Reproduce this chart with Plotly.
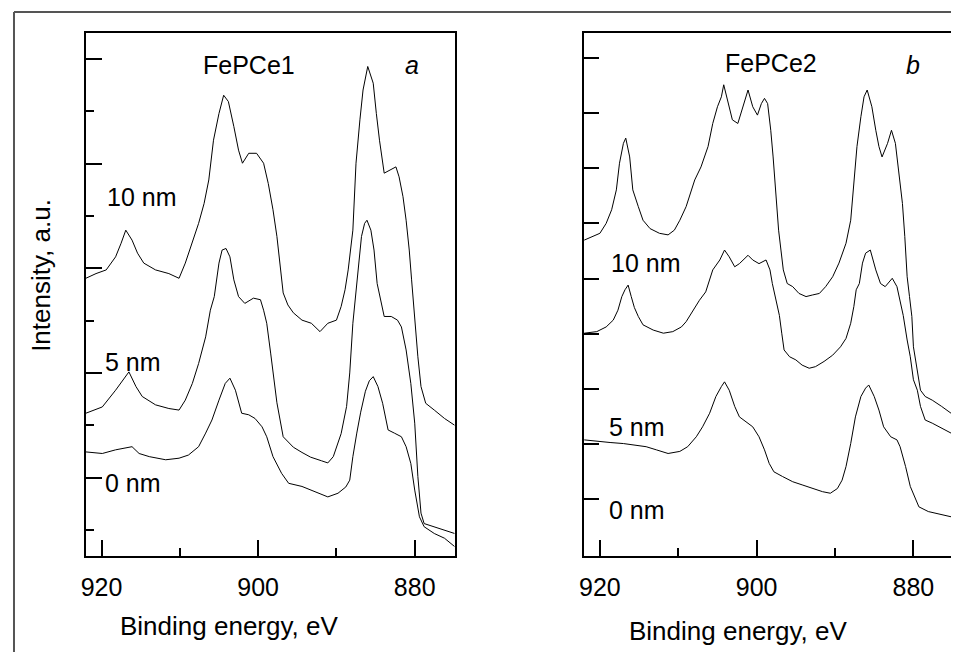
import plotly.graph_objects as go

# the page body adds an 8 px margin, so the figure is drawn 8 px smaller and offset
W, H = 959, 652
OFF = 8
FW, FH = W - OFF, H - OFF

# binding energy (eV) / intensity (a.u.)
# panel a: FePCe1
a10_x = [922.0, 920.7, 919.4, 918.2, 917.5, 916.9, 916.1, 915.4, 914.6, 913.1, 911.4, 910.1, 909.3, 908.4,
         907.6, 906.9, 906.3, 905.7, 905.0, 904.4, 903.8, 903.1, 902.5, 902.0, 901.2, 900.2, 899.3, 898.7,
         898.1, 897.6, 897.2, 896.8, 896.2, 895.5, 894.4, 893.2, 892.1, 891.1, 890.0, 889.4, 888.9, 888.5,
         887.9, 887.5, 887.0, 886.6, 886.0, 885.3, 884.9, 884.5, 883.9, 883.2, 882.4, 882.0, 881.5, 881.1,
         880.7, 880.4, 880.0, 879.6, 879.2, 878.6, 877.5, 876.2, 874.9]
a10_y = [53.1, 54.0, 54.7, 57.2, 59.8, 62.3, 60.4, 57.9, 56.0, 54.7, 54.0, 53.1, 56.0, 59.8,
         63.6, 67.4, 71.9, 79.5, 84.6, 88.1, 86.9, 82.1, 77.6, 75.1, 77.0, 77.0, 75.1, 71.2,
         66.2, 61.1, 56.0, 50.3, 48.0, 46.5, 45.1, 44.5, 42.9, 44.5, 45.1, 47.7, 50.9, 54.7,
         62.3, 75.1, 83.4, 89.1, 93.6, 90.4, 84.6, 79.5, 73.2, 73.8, 74.4, 72.5, 68.7, 64.2,
         58.5, 52.8, 44.5, 38.1, 32.4, 29.2, 27.9, 26.3, 25.0]

a5_x = [922.0, 919.9, 918.2, 917.3, 916.5, 915.6, 914.8, 913.1, 911.4, 910.1, 909.3, 908.4, 907.6, 906.7,
        906.1, 905.6, 905.0, 904.6, 904.1, 903.6, 903.1, 902.5, 901.7, 900.6, 899.7, 899.3, 898.9, 898.4,
        897.6, 896.8, 895.5, 894.4, 893.3, 891.9, 891.1, 890.4, 889.4, 888.7, 888.3, 887.9, 887.5, 887.2,
        886.8, 886.4, 886.1, 885.6, 885.2, 884.8, 884.3, 883.9, 883.0, 882.2, 881.7, 881.1, 880.5, 880.0,
        879.6, 879.2, 878.8, 877.5, 876.2, 874.9]
a5_y = [27.3, 28.5, 31.7, 33.6, 35.2, 32.4, 30.5, 28.9, 28.2, 27.9, 29.8, 33.0, 36.8, 41.9,
        47.0, 49.6, 56.0, 58.5, 58.8, 57.2, 52.8, 49.6, 48.3, 49.3, 49.0, 47.0, 44.5, 38.8,
        29.3, 22.8, 20.8, 19.8, 18.9, 18.2, 17.8, 19.0, 23.4, 28.6, 35.0, 44.5, 50.9, 56.0,
        61.1, 63.6, 64.2, 62.3, 58.5, 52.1, 48.3, 45.8, 45.8, 45.1, 43.8, 39.4, 33.0, 25.4,
        15.2, 8.2, 6.2, 5.6, 5.0, 4.3]

a0_x = [922.0, 919.9, 918.2, 916.9, 916.1, 915.2, 913.9, 911.8, 910.1, 908.9, 907.6, 906.7, 905.9, 905.0,
        904.2, 903.6, 902.9, 902.1, 901.2, 900.4, 899.5, 898.9, 898.1, 897.0, 896.1, 894.4, 892.8, 891.1,
        889.8, 888.8, 888.3, 887.9, 887.4, 886.9, 886.3, 885.8, 885.3, 884.7, 884.1, 883.4, 882.6, 881.7,
        881.1, 880.5, 880.0, 879.4, 878.8, 877.5, 876.2, 874.9]
a0_y = [19.9, 19.6, 20.3, 20.6, 20.9, 19.6, 19.0, 18.4, 18.7, 19.3, 20.9, 23.5, 26.0, 29.8,
        33.0, 34.0, 31.7, 27.3, 27.0, 26.3, 24.7, 22.8, 19.0, 15.8, 13.9, 13.3, 12.3, 11.3,
        12.0, 13.2, 14.5, 19.0, 23.5, 27.5, 31.5, 33.5, 34.3, 32.4, 29.2, 24.1, 23.5, 22.8,
        20.9, 17.7, 12.6, 7.5, 5.6, 4.3, 3.4, 1.8]

# panel b: FePCe2
b10_x = [922.0, 920.8, 920.0, 919.2, 918.5, 917.9, 917.5, 917.0, 916.7, 916.2, 915.8, 915.1, 914.5, 913.6,
         912.4, 911.3, 910.5, 909.8, 909.0, 907.9, 907.1, 906.2, 905.6, 905.0, 904.5, 904.2, 903.7, 903.1,
         902.4, 901.8, 901.1, 900.5, 899.9, 899.4, 899.0, 898.6, 898.2, 897.9, 897.5, 897.2, 896.9, 896.6,
         896.1, 895.4, 894.6, 893.7, 892.9, 892.0, 891.2, 890.3, 889.5, 888.6, 888.0, 887.6, 887.2, 886.7,
         886.3, 885.9, 885.3, 884.8, 884.4, 884.0, 883.3, 882.8, 882.3, 881.9, 881.4, 881.1, 880.8, 880.5,
         880.2, 880.0, 879.5, 879.1, 878.5, 877.6, 876.4, 875.2]
b10_y = [60.4, 61.1, 61.7, 63.6, 66.2, 70.0, 75.1, 78.9, 79.9, 76.3, 70.0, 66.8, 64.2, 62.6,
         61.7, 61.4, 62.3, 64.2, 66.8, 71.9, 74.4, 78.3, 82.7, 85.9, 87.8, 90.1, 87.2, 83.4,
         82.7, 85.9, 89.1, 85.9, 84.3, 86.5, 87.5, 86.5, 81.4, 76.3, 68.7, 62.3, 58.5, 54.7,
         52.1, 51.5, 50.2, 49.6, 49.9, 50.2, 51.5, 53.4, 56.0, 59.8, 64.2, 70.6, 78.3, 84.0,
         87.8, 89.1, 85.9, 81.4, 78.3, 76.3, 78.9, 81.4, 78.9, 73.8, 67.4, 61.1, 53.4, 49.6,
         45.8, 40.0, 34.9, 31.7, 30.5, 29.8, 28.6, 27.3]

b5_x = [922.0, 920.4, 919.2, 918.3, 917.7, 917.2, 916.8, 916.4, 916.0, 915.6, 915.1, 914.5, 913.2, 911.9,
        910.7, 909.6, 909.0, 908.1, 907.3, 906.5, 905.6, 904.7, 904.1, 903.5, 902.8, 902.2, 901.1, 900.5,
        899.7, 898.8, 898.3, 898.0, 897.5, 897.1, 896.8, 896.5, 895.8, 895.0, 894.2, 893.3, 892.5, 891.4,
        890.3, 889.3, 888.6, 888.0, 887.6, 887.3, 886.9, 886.5, 886.1, 885.5, 884.8, 884.2, 883.6, 882.7,
        882.1, 881.7, 881.3, 880.8, 880.4, 880.0, 879.5, 879.1, 878.5, 877.6, 876.4, 875.2]
b5_y = [42.6, 42.9, 43.8, 45.1, 47.0, 49.6, 50.9, 51.8, 49.6, 47.5, 45.8, 44.2, 43.2, 42.6,
        42.9, 43.8, 44.8, 47.0, 48.9, 50.5, 54.7, 56.6, 58.5, 57.2, 55.3, 55.9, 57.5, 56.6,
        55.9, 56.6, 54.7, 52.1, 49.0, 46.0, 42.6, 39.4, 38.1, 37.5, 36.5, 35.9, 36.2, 37.2,
        38.4, 40.0, 41.6, 44.5, 47.7, 50.9, 52.1, 56.0, 57.9, 58.5, 54.7, 52.1, 51.5, 53.1,
        51.5, 49.0, 46.0, 41.3, 38.1, 33.7, 31.7, 28.6, 26.0, 25.4, 24.4, 23.5]

b0_x = [922.0, 920.4, 918.7, 917.0, 915.3, 914.1, 912.8, 911.3, 909.8, 908.8, 907.7, 906.9, 906.0, 905.2,
        904.5, 904.1, 903.5, 902.8, 902.2, 901.4, 900.5, 899.7, 899.0, 898.4, 897.8, 896.7, 895.4, 894.2,
        892.9, 891.6, 890.6, 889.7, 889.1, 888.6, 888.0, 887.4, 886.7, 886.1, 885.7, 885.0, 884.4, 883.8,
        882.9, 882.1, 881.7, 881.0, 880.4, 879.7, 879.3, 878.1, 876.8, 875.2]
b0_y = [22.2, 21.9, 21.7, 21.5, 21.2, 20.9, 20.3, 19.6, 20.0, 20.9, 22.8, 24.7, 27.3, 30.5,
        32.4, 33.3, 31.7, 28.6, 26.6, 25.7, 24.7, 22.8, 20.3, 17.7, 16.1, 15.2, 14.2, 13.6,
        12.9, 12.3, 12.0, 12.9, 14.5, 17.1, 21.5, 26.6, 30.5, 32.1, 32.7, 30.5, 27.9, 24.7,
        22.8, 22.2, 20.9, 17.1, 13.3, 10.7, 9.4, 8.5, 8.1, 7.5]

x_ticks = [920, 900, 880]
FONT = "Liberation Sans, Arial, sans-serif"

fig = go.Figure()
line = dict(color="black", width=1)
for xs, ys in [(a10_x, a10_y), (a5_x, a5_y), (a0_x, a0_y)]:
    fig.add_trace(go.Scatter(x=xs, y=ys, mode="lines", line=line, xaxis="x", yaxis="y", showlegend=False))
for xs, ys in [(b10_x, b10_y), (b5_x, b5_y), (b0_x, b0_y)]:
    fig.add_trace(go.Scatter(x=xs, y=ys, mode="lines", line=line, xaxis="x2", yaxis="y2", showlegend=False))


def px(x):  # screen pixel -> paper
    return (x - OFF) / FW


def py(y):
    return 1 - (y - OFF) / FH


xcommon = dict(tickvals=x_ticks, ticks="inside", ticklen=16, tickwidth=2, tickcolor="black",
               minor=dict(tickvals=[910, 890], ticks="inside", ticklen=8, tickwidth=2, tickcolor="black"),
               showline=True, linewidth=2, linecolor="black", mirror=True, showgrid=False, zeroline=False,
               tickfont=dict(size=25, color="black", family=FONT), ticklabelstandoff=8)
ycommon = dict(ticks="inside", tickwidth=2, tickcolor="black", showticklabels=False,
               showline=True, linewidth=2, linecolor="black", mirror=True, showgrid=False, zeroline=False,
               range=[0, 100])

fig.update_layout(
    width=FW, height=FH, margin=dict(l=0, r=0, t=0, b=0),
    paper_bgcolor="white", plot_bgcolor="white",
    font=dict(family=FONT, size=25, color="black"),
    xaxis=dict(domain=[px(81), px(452)], range=[922.03, 874.9], anchor="y", **xcommon),
    yaxis=dict(domain=[py(556), py(33)], anchor="x", tick0=15, dtick=20, ticklen=16,
               minor=dict(tick0=5, dtick=10, ticks="inside", ticklen=8, tickwidth=2, tickcolor="black"),
               **ycommon),
    xaxis2=dict(domain=[px(582), px(951)], range=[922.03, 875.2], anchor="y2", **xcommon),
    yaxis2=dict(domain=[py(556), py(33)], anchor="x2", ticklen=15,
                tickvals=[10.9 + 10.54 * k for k in range(9)], **ycommon),
)

labels = [
    ("FePCe1", 245, 65, False, 25), ("a", 409, 65, True, 25), ("10 nm", 137, 197, False, 25),
    ("5 nm", 129, 362, False, 25), ("0 nm", 129, 483, False, 25),
    ("FePCe2", 770, 63, False, 25), ("b", 913, 65, True, 25), ("10 nm", 644, 263, False, 25),
    ("5 nm", 635, 427, False, 25), ("0 nm", 635, 510, False, 25),
    ("Binding energy, eV", 225, 626, False, 26), ("Binding energy, eV", 737, 631, False, 26),
]
for text, x, y, ital, size in labels:
    fig.add_annotation(text=f"<i>{text}</i>" if ital else text, x=px(x), y=py(y), xref="paper", yref="paper",
                       xanchor="center", yanchor="middle", showarrow=False, font=dict(size=size, family=FONT))
fig.add_annotation(text="Intensity, a.u.", x=px(36), y=py(275), xref="paper", yref="paper", textangle=-90,
                   xanchor="center", yanchor="middle", showarrow=False, font=dict(size=26, family=FONT))

# outer frame (top and left edges only)
fig.add_shape(type="line", xref="paper", yref="paper", x0=px(9), x1=1, y0=py(12), y1=py(12),
              line=dict(color="#555555", width=2))
fig.add_shape(type="line", xref="paper", yref="paper", x0=px(9), x1=px(9), y0=py(12), y1=0,
              line=dict(color="#555555", width=2))

fig.write_html("out.html")
